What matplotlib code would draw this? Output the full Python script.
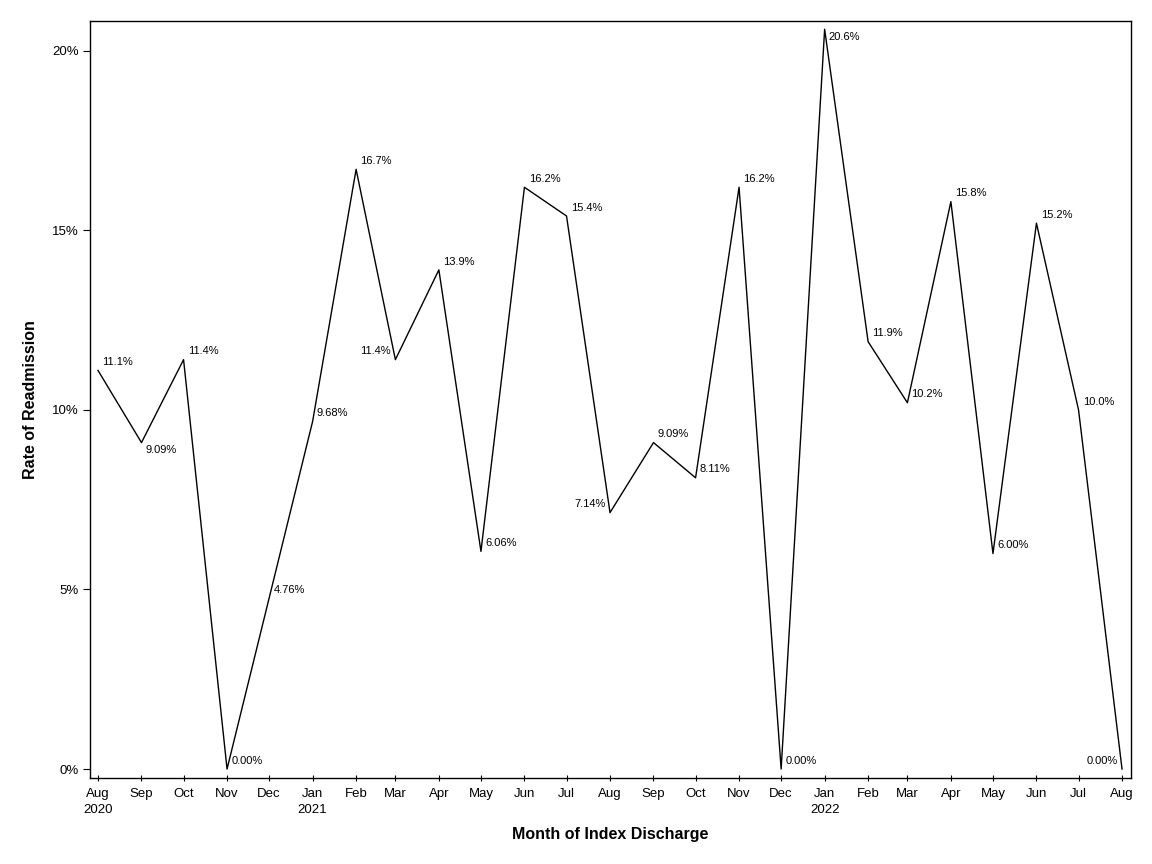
import matplotlib
matplotlib.use("Agg")
import matplotlib.pyplot as plt
import pandas as pd

plt.rcParams['font.family'] = ['Liberation Sans', 'DejaVu Sans']

# monthly readmission rate (%) by month of index discharge
months = ['2020-08', '2020-09', '2020-10', '2020-11', '2020-12',
          '2021-01', '2021-02', '2021-03', '2021-04', '2021-05', '2021-06',
          '2021-07', '2021-08', '2021-09', '2021-10', '2021-11', '2021-12',
          '2022-01', '2022-02', '2022-03', '2022-04', '2022-05', '2022-06',
          '2022-07', '2022-08']
rates = [11.1, 9.09, 11.4, 0.00, 4.76,
         9.68, 16.7, 11.4, 13.9, 6.06, 16.2,
         15.4, 7.14, 9.09, 8.11, 16.2, 0.00,
         20.6, 11.9, 10.2, 15.8, 6.00, 15.2,
         10.0, 0.00]
tick_labels = ['Aug\n2020', 'Sep', 'Oct', 'Nov', 'Dec',
               'Jan\n2021', 'Feb', 'Mar', 'Apr', 'May', 'Jun',
               'Jul', 'Aug', 'Sep', 'Oct', 'Nov', 'Dec',
               'Jan\n2022', 'Feb', 'Mar', 'Apr', 'May', 'Jun',
               'Jul', 'Aug']

dates = pd.to_datetime(months)


def fmt_rate(v):
    # 3 significant digits like the SAS output
    if v < 10:
        return '%.2f%%' % v
    return '%.1f%%' % v


fig = plt.figure(figsize=(11.52, 8.64), dpi=100)
ax = fig.add_axes([90/1152, 86/864, 1041/1152, 757/864])

ax.plot(dates, rates, color='black', lw=1.0)

# label placement: default is right/above, a few are moved to avoid the line
below = {1, 17}
left = {7, 12, 24}
for i, (d, v) in enumerate(zip(dates, rates)):
    if i in left:
        ax.annotate(fmt_rate(v), (d, v), xytext=(-3, 6), textcoords='offset points',
                    ha='right', va='center', fontsize=8)
    elif i in below:
        ax.annotate(fmt_rate(v), (d, v), xytext=(3, -5.5), textcoords='offset points',
                    ha='left', va='center', fontsize=8)
    else:
        ax.annotate(fmt_rate(v), (d, v), xytext=(3, 6), textcoords='offset points',
                    ha='left', va='center', fontsize=8)

ax.set_xlim(dates[0] - pd.Timedelta(days=5.7), dates[-1] + pd.Timedelta(days=6.4))
ax.set_ylim(-0.25, 20.83)

ax.set_xticks(dates)
ax.set_xticklabels(tick_labels, fontsize=9.5, linespacing=1.45)
ax.set_yticks([0, 5, 10, 15, 20])
ax.set_yticklabels(['0%', '5%', '10%', '15%', '20%'], fontsize=9.5)

ax.tick_params(axis='y', direction='out', length=5, width=0.8, pad=3)
ax.tick_params(axis='x', direction='inout', length=5, width=0.8, pad=4.5)

for s in ax.spines.values():
    s.set_linewidth(1.0)

ax.set_xlabel('Month of Index Discharge', fontsize=11.5, fontweight='bold', labelpad=8)
ax.set_ylabel('Rate of Readmission', fontsize=11.5, fontweight='bold', labelpad=10)

fig.savefig('out.png', dpi=100)
